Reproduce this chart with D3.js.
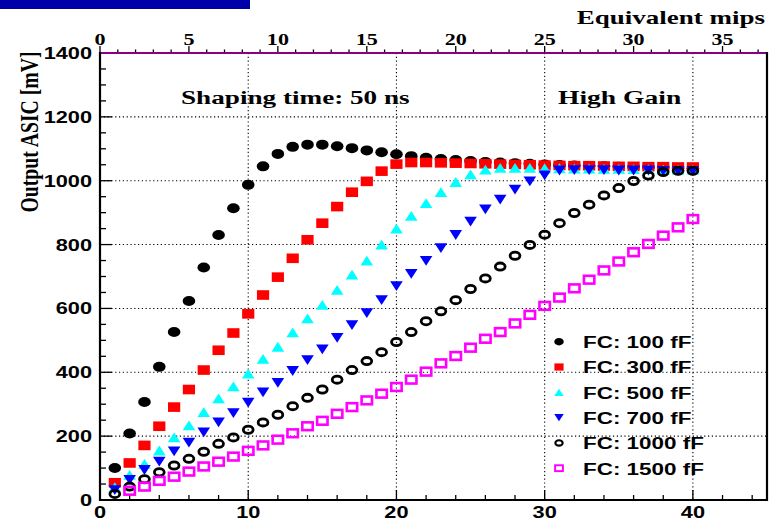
<!DOCTYPE html>
<meta charset="utf-8">
<body style="margin:0;background:#fff">
<script src="https://cdn.jsdelivr.net/npm/d3@7"></script>
<script>

    var width = 777,
        height = 523;

    // data (x = injected charge step, y = output in mV)
    var steps = [1,2,3,4,5,6,7,8,9,10,11,12,13,14,15,16,17,18,19,20,
                 21,22,23,24,25,26,27,28,29,30,31,32,33,34,35,36,37,38,39,40];
    var fc100 = [100,208,307,417,526,623,728,830,914,987,1045,1084,1106,1113,1113,1108,1102,1095,1089,1083,
                 1077,1072,1068,1065,1062,1059,1057,1055,1053,1051,1049,1048,1046,1045,1044,1043,1042,1041,1040,1039];
    var fc300 = [54,116,171,231,291,346,407,469,523,583,642,698,757,815,867,919,964,998,1030,1052,
                 1057,1057,1056,1055,1054,1053,1052,1051,1050,1049,1048,1047,1047,1046,1045,1045,1044,1044,1043,1043];
    var fc500 = [40,79,113,155,196,234,275,318,356,396,442,480,525,569,611,658,706,750,800,850,
                 890,930,964,996,1020,1035,1040,1040,1040,1039,1039,1038,1038,1037,1037,1036,1036,1035,1035,1035];
    var fc700 = [31,63,94,120,152,180,212,243,272,305,337,367,404,438,472,508,548,585,626,670,
                 708,749,789,830,872,910,941,972,998,1017,1032,1033,1033,1033,1032,1032,1032,1031,1031,1031];
    var fc1000 = [19,42,65,87,108,129,151,176,196,220,243,267,294,320,346,377,407,435,463,495,
                  526,560,591,626,661,694,731,765,799,831,867,899,925,954,977,999,1016,1027,1031,1031];
    var fc1500 = [null,29,42,60,73,89,105,120,136,154,171,189,209,231,248,270,291,312,333,354,
                  377,402,428,451,477,505,526,553,580,608,634,663,690,719,747,776,802,828,854,880];

    var legendLabels = ["FC: 100 fF","FC: 300 fF","FC: 500 fF","FC: 700 fF","FC: 1000 fF","FC: 1500 fF"];
    var yTicks = [0,200,400,600,800,1000,1200,1400];
    var xTicks = [0,10,20,30,40];
    var mipTicks = [0,5,10,15,20,25,30,35];

    var padL = 100, padR = 767, padT = 53, padB = 500;

    var x = d3.scaleLinear().domain([0, 45]).range([padL, padR]);
    var y = d3.scaleLinear().domain([0, 1400]).range([padB, padT]);
    var xMip = d3.scaleLinear().domain([0, 37.5]).range([padL, padR]);

    var svg = d3.select("body").append("svg")
            .attr("width", width)
            .attr("height", height)
            .style("display", "block");

    svg.append("rect").attr("width", width).attr("height", height).attr("fill", "#fff");

    // blue strip in the top-left corner
    svg.append("rect").attr("x", 0).attr("y", 0).attr("width", 250).attr("height", 9).attr("fill", "#0000a8");

    var sans = "'Liberation Sans', Arial, sans-serif",
        serif = "'Liberation Serif', 'Times New Roman', serif";

    // text that is stretched sideways like the original picture
    function label(str, px, py, opt) {
        return svg.append("text")
                .attr("transform", "translate(" + px + "," + py + ") scale(" + (opt.sx || 1.36) + ",1)")
                .attr("font-family", opt.family || sans)
                .attr("font-weight", opt.weight || "bold")
                .attr("font-size", opt.size || 16)
                .attr("text-anchor", opt.anchor || "start")
                .attr("fill", "#000")
                .text(str);
    }

    // grid
    var grid = svg.append("g").attr("stroke", "#000").attr("stroke-width", 1.1).attr("stroke-dasharray", "1.2,2.6");
    grid.selectAll(".gx").data(xTicks.slice(1)).enter().append("line")
            .attr("x1", function(d) { return x(d); }).attr("x2", function(d) { return x(d); })
            .attr("y1", padT).attr("y2", padB);
    grid.selectAll(".gy").data(yTicks.slice(1, -1)).enter().append("line")
            .attr("y1", function(d) { return y(d); }).attr("y2", function(d) { return y(d); })
            .attr("x1", padL).attr("x2", padR);

    // left axis ticks (inside)
    var ticks = svg.append("g").attr("stroke", "#000").attr("stroke-width", 1.3);
    ticks.selectAll(".ly").data(d3.range(0, 1401, 50)).enter().append("line")
            .attr("x1", padL).attr("x2", function(d) { return padL + (d % 200 === 0 ? 12 : 6); })
            .attr("y1", function(d) { return y(d); }).attr("y2", function(d) { return y(d); });
    // bottom axis ticks (inside)
    ticks.selectAll(".lx").data(d3.range(0, 45, 2)).enter().append("line")
            .attr("y1", padB).attr("y2", function(d) { return padB - (d % 10 === 0 ? 10 : 5); })
            .attr("x1", function(d) { return x(d); }).attr("x2", function(d) { return x(d); });
    // top axis ticks (outside, upwards)
    ticks.selectAll(".tx").data(d3.range(0, 37.5, 1)).enter().append("line")
            .attr("y1", padT).attr("y2", function(d) { return padT - (d % 5 === 0 ? 7 : 3.5); })
            .attr("x1", function(d) { return xMip(d); }).attr("x2", function(d) { return xMip(d); });

    // frame
    svg.append("line").attr("x1", padL).attr("x2", padR).attr("y1", padT).attr("y2", padT)
            .attr("stroke", "#880088").attr("stroke-width", 2);
    var frame = svg.append("g").attr("stroke", "#000").attr("stroke-width", 2.2);
    frame.append("line").attr("x1", padL).attr("x2", padL).attr("y1", padT - 1).attr("y2", padB + 1);
    frame.append("line").attr("x1", padR).attr("x2", padR).attr("y1", padT - 1).attr("y2", padB + 1);
    frame.append("line").attr("x1", padL - 1).attr("x2", padR + 1).attr("y1", padB).attr("y2", padB);

    // tick labels
    yTicks.forEach(function(d) { label(d, padL - 8, y(d) + 6, {anchor: "end"}); });
    xTicks.forEach(function(d) { label(d, x(d), 518, {anchor: "middle"}); });
    mipTicks.forEach(function(d) { label(d, xMip(d), 45, {anchor: "middle", family: serif, sx: 1.38}); });

    // titles
    label("Equivalent mips", 765, 24, {anchor: "end", family: serif, size: 19, sx: 1.42});
    label("Shaping time: 50 ns", 181, 104, {family: serif, size: 19, sx: 1.43});
    label("High Gain", 558, 104, {family: serif, size: 19, sx: 1.45});

    svg.append("text")
            .attr("transform", "translate(38,132) rotate(-90) scale(1,1.35)")
            .attr("font-family", serif)
            .attr("font-weight", "bold")
            .attr("font-size", 18)
            .attr("text-anchor", "middle")
            .attr("textLength", 161)
            .attr("lengthAdjust", "spacingAndGlyphs")
            .text("Output ASIC [mV]");

    // marker painters, k = size factor
    function dot(g, cx, cy, k) {
        g.append("ellipse").attr("cx", cx).attr("cy", cy).attr("rx", 6.3 * k).attr("ry", 5 * k).attr("fill", "#000");
    }
    function square(g, cx, cy, k) {
        g.append("rect").attr("x", cx - 6.1 * k).attr("y", cy - 4.8 * k).attr("width", 12.2 * k).attr("height", 9.6 * k)
                .attr("fill", "#ff0000");
    }
    function triUp(g, cx, cy, k) {
        var w = 6.3 * k, h = 4.9 * k;
        g.append("path").attr("d", "M" + (cx - w) + "," + (cy + h) + "L" + (cx + w) + "," + (cy + h) + "L" + cx + "," + (cy - h) + "Z")
                .attr("fill", "#00ffff");
    }
    function triDown(g, cx, cy, k) {
        var w = 6.3 * k, h = 4.9 * k;
        g.append("path").attr("d", "M" + (cx - w) + "," + (cy - h) + "L" + (cx + w) + "," + (cy - h) + "L" + cx + "," + (cy + h) + "Z")
                .attr("fill", "#0000ff");
    }
    function ring(g, cx, cy, k) {
        g.append("ellipse").attr("cx", cx).attr("cy", cy).attr("rx", 4.9 * k).attr("ry", 3.6 * k)
                .attr("fill", "none").attr("stroke", "#000").attr("stroke-width", 2.8 * k);
    }
    function box(g, cx, cy, k) {
        g.append("rect").attr("x", cx - 5.2 * k).attr("y", cy - 3.9 * k).attr("width", 10.4 * k).attr("height", 7.8 * k)
                .attr("fill", "none").attr("stroke", "#ff00ff").attr("stroke-width", 2.6 * k);
    }

    var series = [fc100, fc300, fc500, fc700, fc1000, fc1500];
    var painters = [dot, square, triUp, triDown, ring, box];

    series.forEach(function(vals, i) {
        var g = svg.append("g");
        vals.forEach(function(v, j) {
            if (v === null) return;
            painters[i](g, x(steps[j]), y(v), 1);
        });
    });

    // legend
    var leg = svg.append("g");
    legendLabels.forEach(function(name, i) {
        var ly = 341.7 + i * 25.3;
        painters[i](leg, 559, ly, 0.75);
        label(name, 583, ly + 6.3, {size: 17, sx: 1.32});
    });

</script>
